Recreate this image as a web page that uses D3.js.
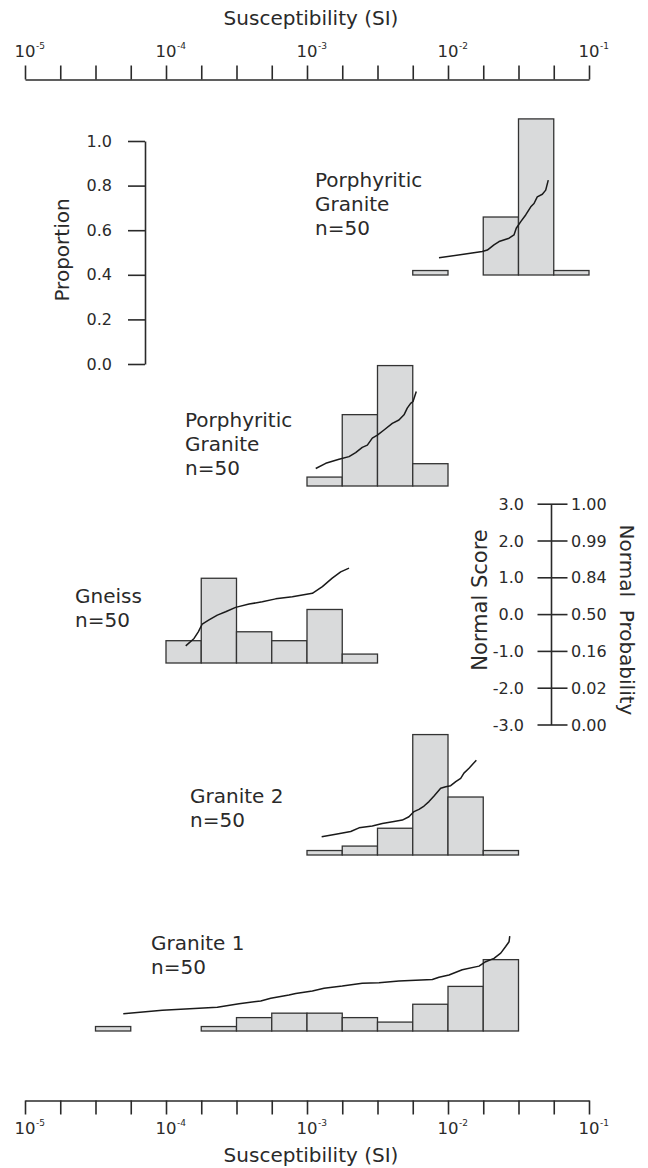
<!DOCTYPE html>
<html>
<head>
<meta charset="utf-8">
<script src="https://cdn.jsdelivr.net/npm/d3@7"></script>
<style>
  html, body { margin: 0; padding: 0; background: #fff; }
  svg { display: block; }
  text { font-family: "DejaVu Sans", sans-serif; fill: #2a2a2a; }
</style>
</head>
<body>
<svg id="chart" width="648" height="1168"></svg>
<script>
// ---- data -------------------------------------------------------------
// Susceptibility axis: decade exponents that carry a label
const decadeExponents = [-5, -4, -3, -2, -1];
const binWidth = 0.25;          // histogram bin width, in decades
const sampleSize = 50;

// Histograms: log10 of the first bin's lower edge, then counts per bin
const pgTopStart = -2.25;
const pgTopCounts = [1, 0, 13, 35, 1];
const pgMidStart = -3.0;
const pgMidCounts = [2, 16, 27, 5];
const gneissStart = -4.0;
const gneissCounts = [5, 19, 7, 5, 12, 2];
const granite2Start = -3.0;
const granite2Counts = [1, 2, 6, 27, 13, 1];
const granite1Start = -4.5;
const granite1Counts = [1, 0, 0, 1, 3, 4, 4, 3, 2, 6, 10, 16];

// Normal-score curves: [log10 susceptibility, normal score]
const pgTopCurve = [[-2.064,-1.05],[-1.757,-0.88],[-1.721,-0.84],[-1.674,-0.70],[-1.638,-0.61],
  [-1.567,-0.52],[-1.532,-0.43],[-1.516,-0.25],[-1.484,-0.07],[-1.449,0.11],[-1.413,0.33],
  [-1.390,0.42],[-1.367,0.60],[-1.331,0.67],[-1.307,0.78],[-1.289,1.05]];
const pgMidCurve = [[-2.938,-1.04],[-2.867,-0.90],[-2.773,-0.79],[-2.702,-0.72],[-2.655,-0.61],
  [-2.608,-0.47],[-2.572,-0.41],[-2.537,-0.22],[-2.501,-0.14],[-2.454,0.00],[-2.395,0.18],
  [-2.348,0.27],[-2.312,0.41],[-2.289,0.59],[-2.265,0.72],[-2.248,0.77],[-2.225,1.04]];
const gneissCurve = [[-3.860,-1.05],[-3.801,-0.85],[-3.771,-0.67],[-3.743,-0.46],[-3.695,-0.35],
  [-3.636,-0.22],[-3.577,-0.13],[-3.506,-0.01],[-3.411,0.08],[-3.317,0.14],[-3.222,0.22],
  [-3.104,0.28],[-2.962,0.37],[-2.891,0.55],[-2.821,0.78],[-2.761,0.95],[-2.702,1.05]];
const granite2Curve = [[-2.896,-1.02],[-2.796,-0.95],[-2.690,-0.88],[-2.631,-0.78],[-2.537,-0.73],
  [-2.466,-0.66],[-2.383,-0.61],[-2.324,-0.57],[-2.277,-0.48],[-2.241,-0.34],[-2.206,-0.28],
  [-2.170,-0.19],[-2.135,-0.07],[-2.099,0.08],[-2.052,0.29],[-2.016,0.33],[-1.981,0.36],
  [-1.945,0.47],[-1.910,0.56],[-1.887,0.70],[-1.851,0.83],[-1.799,1.05]];
const granite1Curve = [[-4.303,-1.05],[-4.026,-0.95],[-3.636,-0.87],[-3.482,-0.78],[-3.328,-0.70],
  [-3.257,-0.63],[-3.128,-0.54],[-3.080,-0.50],[-2.962,-0.43],[-2.879,-0.36],[-2.750,-0.30],
  [-2.608,-0.22],[-2.489,-0.21],[-2.348,-0.16],[-2.111,-0.12],[-2.064,-0.06],[-1.993,0.00],
  [-1.899,0.14],[-1.780,0.24],[-1.733,0.36],[-1.674,0.45],[-1.626,0.59],[-1.591,0.77],
  [-1.567,0.90],[-1.562,1.05]];

// Panel captions
const pgTopLabel = ["Porphyritic", "Granite", "n=50"];
const pgMidLabel = ["Porphyritic", "Granite", "n=50"];
const gneissLabel = ["Gneiss", "n=50"];
const granite2Label = ["Granite 2", "n=50"];
const granite1Label = ["Granite 1", "n=50"];

// Scale bars
const proportionTicks = [0, 0.2, 0.4, 0.6, 0.8, 1.0];
const normalScoreTicks = [3, 2, 1, 0, -1, -2, -3];
const normalProbLabels = ["1.00", "0.99", "0.84", "0.50", "0.16", "0.02", "0.00"];

// ---- layout -----------------------------------------------------------
const svg = d3.select("#chart");
const x = d3.scaleLog().domain([1e-5, 1e-1]).range([25, 589]);
const pxPerProportion = 223;
const pxPerScore = 37;

const panels = [
  { start: pgTopStart, counts: pgTopCounts, curve: pgTopCurve, label: pgTopLabel, base: 275, lx: 315, ly: 187 },
  { start: pgMidStart, counts: pgMidCounts, curve: pgMidCurve, label: pgMidLabel, base: 486, lx: 185, ly: 427 },
  { start: gneissStart, counts: gneissCounts, curve: gneissCurve, label: gneissLabel, base: 663, lx: 75, ly: 603 },
  { start: granite2Start, counts: granite2Counts, curve: granite2Curve, label: granite2Label, base: 855, lx: 190, ly: 803 },
  { start: granite1Start, counts: granite1Counts, curve: granite1Curve, label: granite1Label, base: 1031, lx: 151, ly: 950 }
];

// ---- susceptibility axes (top and bottom) -------------------------------
const minorTicks = d3.range(-5, -1 + 1e-9, binWidth).map(e => Math.pow(10, e));

function drawSusAxis(lineY, dir, labelY, titleY) {
  const g = svg.append("g");
  const axis = (dir < 0 ? d3.axisTop(x) : d3.axisBottom(x))
    .tickValues(minorTicks).tickSize(14).tickSizeOuter(0).tickFormat("");
  g.attr("transform", `translate(0,${lineY})`).call(axis);
  g.select(".domain").attr("stroke", "#2a2a2a").attr("stroke-width", 1.6);
  g.selectAll(".tick line").attr("stroke", "#2a2a2a").attr("stroke-width", 1.6);

  decadeExponents.forEach(e => {
    const px = x(Math.pow(10, e));
    const t = svg.append("text").attr("x", px).attr("y", labelY)
      .attr("text-anchor", "middle").attr("font-size", 16.5).text("10");
    const w = t.node().getComputedTextLength();
    svg.append("text").attr("x", px + w / 2 + 0.5).attr("y", labelY - 8)
      .attr("font-size", 9).text(String(e));
  });
  svg.append("text").attr("x", 311).attr("y", titleY).attr("text-anchor", "middle")
    .attr("font-size", 20).text("Susceptibility (SI)");
}
drawSusAxis(79.5, -1, 57, 25);
drawSusAxis(1100.5, 1, 1134, 1162);

// ---- proportion scale bar ---------------------------------------------
const yProp = d3.scaleLinear().domain([0, 1]).range([364, 364 - pxPerProportion]);
const propG = svg.append("g").attr("transform", "translate(145,0)")
  .call(d3.axisLeft(yProp).tickValues(proportionTicks).tickSize(17).tickSizeOuter(0)
    .tickFormat(d3.format(".1f")));
propG.select(".domain").attr("stroke", "#2a2a2a").attr("stroke-width", 1.6);
propG.selectAll(".tick line").attr("stroke", "#2a2a2a").attr("stroke-width", 1.6);
propG.selectAll(".tick text").attr("x", -33).attr("font-size", 16)
  .attr("font-family", "DejaVu Sans, sans-serif").attr("fill", "#2a2a2a");
svg.append("text").attr("transform", "translate(62,250) rotate(-90)")
  .attr("text-anchor", "middle").attr("dy", "0.35em").attr("font-size", 20).text("Proportion");

// ---- normal score / normal probability scale bar -----------------------
const yScore = d3.scaleLinear().domain([-3, 3]).range([725, 725 - 6 * 36.8]);
const nsX = 551.5;
const nsG = svg.append("g");
nsG.append("line").attr("x1", nsX).attr("x2", nsX)
  .attr("y1", yScore(3)).attr("y2", yScore(-3))
  .attr("stroke", "#2a2a2a").attr("stroke-width", 1.6);
normalScoreTicks.forEach((s, i) => {
  const py = yScore(s);
  nsG.append("line").attr("x1", nsX - 14).attr("x2", nsX + 16).attr("y1", py).attr("y2", py)
    .attr("stroke", "#2a2a2a").attr("stroke-width", 1.6);
  nsG.append("text").attr("x", 524).attr("y", py).attr("dy", "0.35em")
    .attr("text-anchor", "end").attr("font-size", 16).text(d3.format(".1f")(s).replace("−", "-"));
  nsG.append("text").attr("x", 571).attr("y", py).attr("dy", "0.35em")
    .attr("font-size", 16).text(normalProbLabels[i]);
});
svg.append("text").attr("transform", "translate(480,600) rotate(-90)")
  .attr("text-anchor", "middle").attr("dy", "0.35em").attr("font-size", 21).text("Normal Score");
svg.append("text").attr("transform", "translate(627,620) rotate(90)")
  .attr("text-anchor", "middle").attr("dy", "0.35em").attr("font-size", 20)
  .attr("xml:space", "preserve").style("white-space", "pre").text("Normal  Probability");

// ---- panels -----------------------------------------------------------
const line = d3.line();
panels.forEach(p => {
  const g = svg.append("g");
  const bins = p.counts.map((c, i) => ({
    lo: Math.pow(10, p.start + i * binWidth),
    hi: Math.pow(10, p.start + (i + 1) * binWidth),
    prop: c / sampleSize
  })).filter(b => b.prop > 0);

  g.selectAll("rect").data(bins).join("rect")
    .attr("x", b => x(b.lo))
    .attr("width", b => x(b.hi) - x(b.lo))
    .attr("y", b => p.base - b.prop * pxPerProportion)
    .attr("height", b => b.prop * pxPerProportion)
    .attr("fill", "#d9dadb")
    .attr("stroke", "#333")
    .attr("stroke-width", 1.3);

  const zeroY = p.base - 56;
  const yCurve = d3.scaleLinear().domain([0, 1]).range([zeroY, zeroY - pxPerScore]);
  g.append("path")
    .attr("d", line(p.curve.map(d => [x(Math.pow(10, d[0])), yCurve(d[1])])))
    .attr("fill", "none").attr("stroke", "#1a1a1a").attr("stroke-width", 1.5)
    .attr("stroke-linejoin", "round");

  p.label.forEach((txt, i) => {
    g.append("text").attr("x", p.lx).attr("y", p.ly + i * 24)
      .attr("font-size", 20).text(txt);
  });
});
</script>
</body>
</html>
